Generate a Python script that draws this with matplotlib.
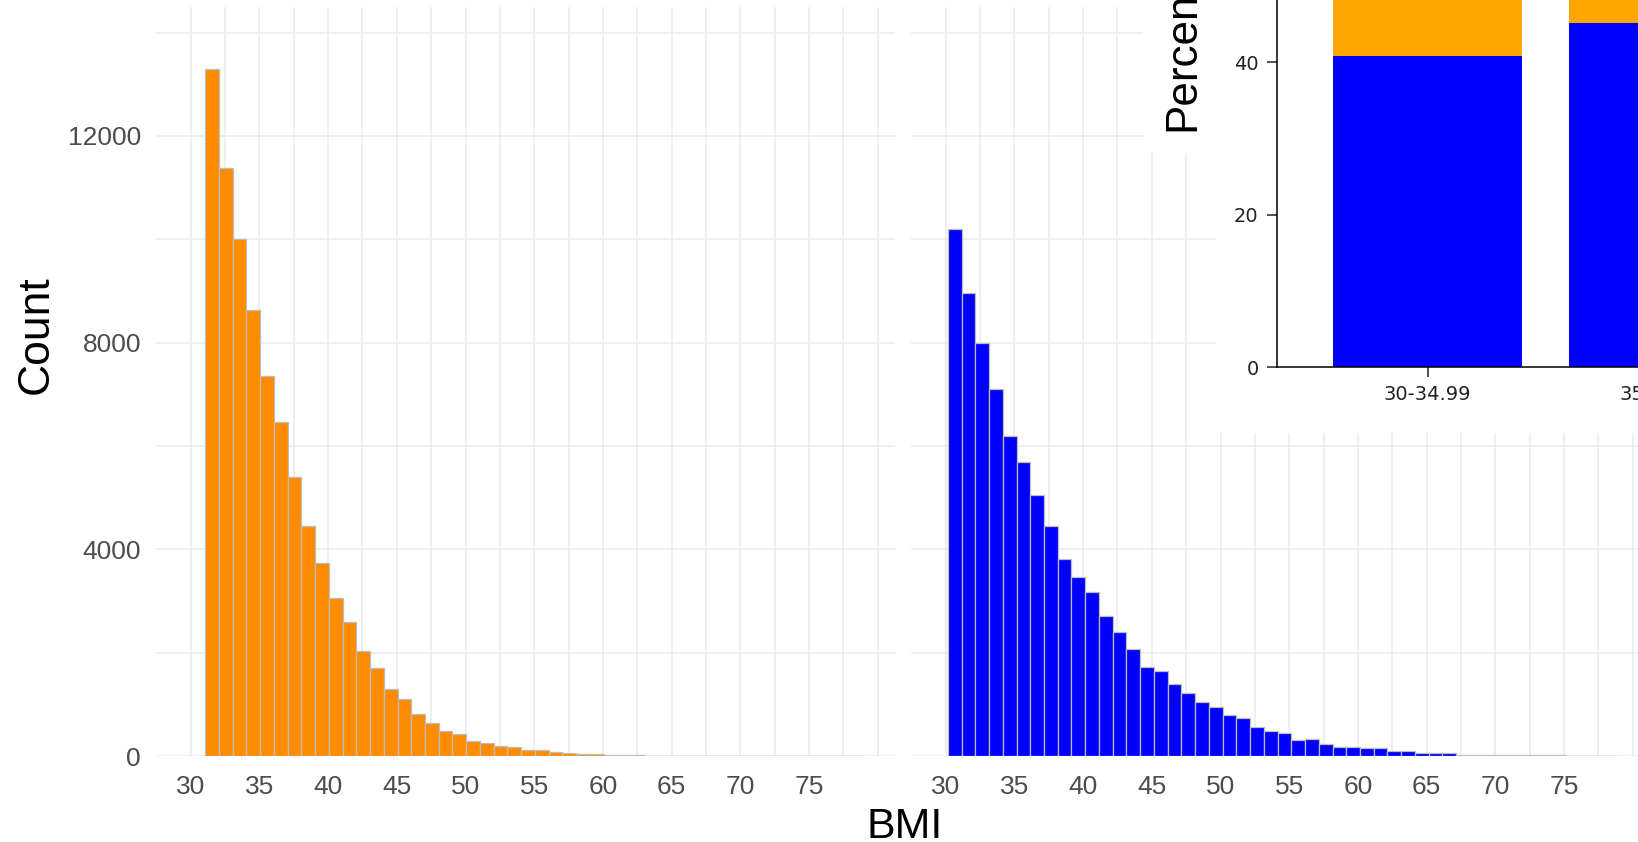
import matplotlib.pyplot as plt
from matplotlib.patches import Rectangle

W, H = 1638, 842

# BMI histograms, bins 1 BMI unit wide
bin_width = 1.0
left_start = 31.05
left_counts = [13290, 11370, 10000, 8640, 7360, 6470, 5400, 4460, 3740, 3050,
               2600, 2040, 1700, 1300, 1100, 810, 630, 490, 420, 290,
               245, 195, 180, 115, 115, 85,
               50, 38, 30, 22, 18, 12,
               4, 3, 3, 2, 2, 1, 1, 1, 1, 0, 1, 0, 0, 0, 0, 1]
right_start = 30.15
right_counts = [10190, 8965, 7985, 7095, 6200, 5685, 5050, 4450, 3810, 3470,
                3170, 2710, 2405, 2065, 1715, 1640, 1385, 1215, 1040, 955,
                785, 740, 565, 485, 440, 310, 325, 225, 180, 180,
                150, 148, 105, 103, 52, 52, 52,
                28, 24, 20, 18, 15, 13, 11, 10,
                3, 2, 2, 1]
x_ticks = [30, 35, 40, 45, 50, 55, 60, 65, 70, 75]
x_minor = [32.5, 37.5, 42.5, 47.5, 52.5, 57.5, 62.5, 67.5, 72.5, 77.5, 80]
y_ticks = [0, 4000, 8000, 12000]
y_minor = [2000, 6000, 10000, 14000]

# inset stacked bars (percent)
bmi_groups = ["30-34.99", "35-39.99"]
blue_pct = [40.8, 45.1]
orange_pct = [59.2, 54.9]

fig = plt.figure(figsize=(W / 100, H / 100), dpi=100)
fig.patch.set_facecolor('white')

gg_font = 'Liberation Sans'


def px_box(x0, y_top, x1, y_bot):
    return [x0 / W, 1 - y_bot / H, (x1 - x0) / W, (y_bot - y_top) / H]


def hist_panel(box, start, counts, color, show_y):
    ax = fig.add_axes(box)
    edges = [start + i * bin_width for i in range(len(counts))]
    ax.bar(edges, counts, width=bin_width, align='edge', color=color,
           edgecolor='#bdbdbd', linewidth=0.9, zorder=2)
    ax.set_xlim(27.47, 81.26)
    ax.set_ylim(0, 14500)
    ax.set_xticks(x_ticks)
    ax.set_xticks(x_minor, minor=True)
    ax.set_yticks(y_ticks)
    ax.set_yticks(y_minor, minor=True)
    ax.grid(which='both', color='#ebebeb', linewidth=1.1)
    ax.set_axisbelow(True)
    for s in ax.spines.values():
        s.set_visible(False)
    ax.tick_params(which='both', length=0)
    ax.tick_params(axis='x', pad=13.5, labelsize=19, labelcolor='#4d4d4d')
    ax.tick_params(axis='y', pad=10.8, labelsize=19, labelcolor='#4d4d4d',
                   labelleft=show_y)
    for lab in ax.get_xticklabels() + ax.get_yticklabels():
        lab.set_family(gg_font)
    return ax


ax_left = hist_panel(px_box(156, 6.7, 895, 756), left_start, left_counts,
                     '#ff8c00', True)
ax_right = hist_panel(px_box(911, 6.7, 1650, 756), right_start, right_counts,
                      '#0000ff', False)

fig.text(36 / W, 1 - 335 / H, 'Count', rotation=90, ha='center', va='center',
         fontsize=32, family=gg_font, color='black')
fig.text(905 / W, 4 / H, 'BMI', ha='center', va='baseline',
         fontsize=31, family=gg_font, color='black')

# pasted-over white area of the second chart
fig.add_artist(Rectangle((1143 / W, 1 - 153 / H), (W - 1143) / W, 153 / H,
                         transform=fig.transFigure, facecolor='white',
                         edgecolor='none', zorder=1))
fig.add_artist(Rectangle((1216 / W, 1 - 433 / H), (W - 1216) / W, 433 / H,
                         transform=fig.transFigure, facecolor='white',
                         edgecolor='none', zorder=1))

# inset bar chart, mostly cropped by the figure edge
ins = fig.add_axes([1276.7 / W, 1 - 367.3 / H, 5.28 * 236 / W, 105 * 7.63 / H])
ins.set_zorder(2)
ins.set_facecolor('white')
pos = list(range(len(bmi_groups)))
ins.bar(pos, blue_pct, width=0.8, color='blue')
ins.bar(pos, orange_pct, width=0.8, bottom=blue_pct, color='orange')
ins.set_xlim(-0.64, 4.64)
ins.set_ylim(0, 105)
ins.set_xticks(pos)
ins.set_xticklabels(bmi_groups)
ins.set_yticks([0, 20, 40, 60, 80, 100])
ins.tick_params(labelsize=14, length=7, width=1.1, pad=6, colors='#222222')
for s in ins.spines.values():
    s.set_linewidth(1.1)

fig.text(1183 / W, 1 - 131 / H, 'Percentage', rotation=90, ha='center',
         va='bottom', fontsize=31.7, family=gg_font, color='black', zorder=3)

fig.savefig('out.png', dpi=100)
